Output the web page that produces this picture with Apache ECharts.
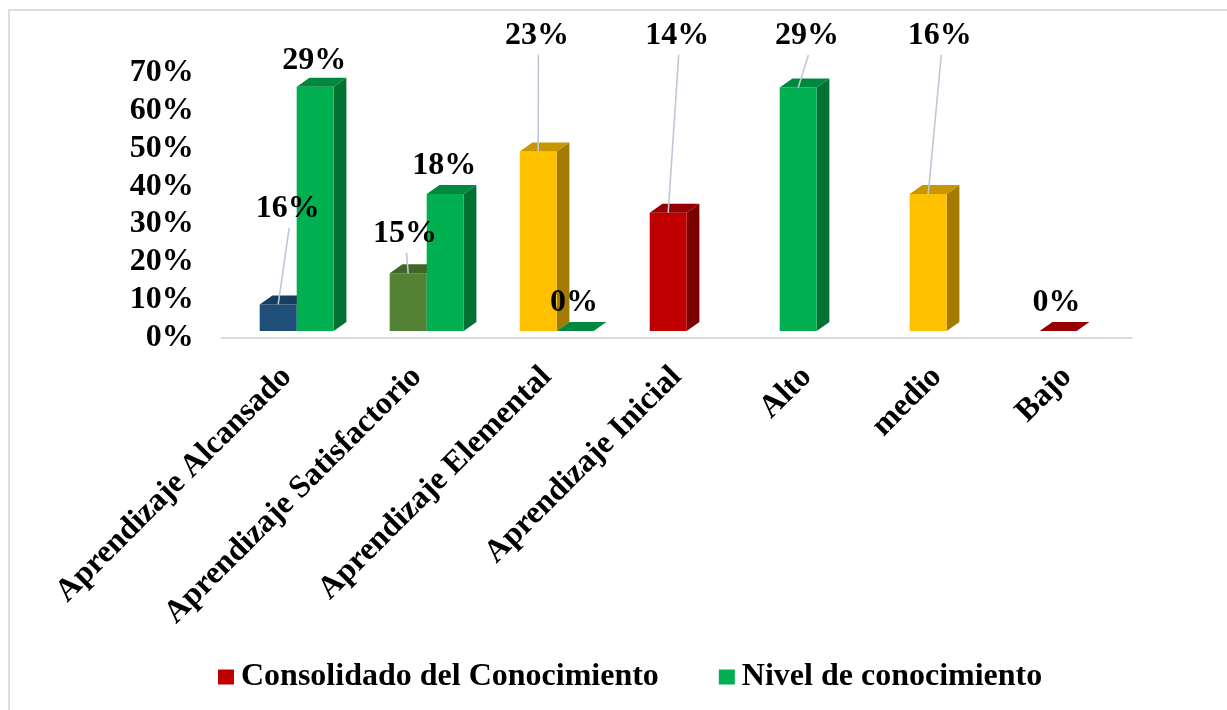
<!DOCTYPE html>
<html>
<head>
<meta charset="utf-8">
<script src="https://cdn.jsdelivr.net/npm/echarts@6/dist/echarts.min.js"></script>
<style>
  html, body { margin: 0; padding: 0; background: #fff; }
  #chart { width: 1227px; height: 710px; }
</style>
</head>
<body>
<div id="chart"></div>
<script>
const categories = [
  'Aprendizaje Alcansado',
  'Aprendizaje Satisfactorio',
  'Aprendizaje Elemental',
  'Aprendizaje Inicial',
  'Alto',
  'medio',
  'Bajo',
]
const consolidado = [7.0, 15.2, 47.3, 31.2, 64.2, 36.1, 0]
const nivel = [64.4, 36.1, 0, null, null, null, null]
const consolidadoLabels = ['16%', '15%', '23%', '14%', '29%', '16%', '0%']
const nivelLabels = ['29%', '18%', '0%', null, null, null, null]
const consolidadoColors = ['#1F4E79', '#548235', '#FFC000', '#C00000', '#00B050', '#FFC000', '#C00000']
const nivelColors = ['#00B050', '#00B050', '#00B050', '#00B050', '#00B050', '#00B050', '#00B050']

// where each data label sits, relative to the top of its bar (px)
const consolidadoLabelShift = [[9.5, -95.6], [-3.2, -39.6], [-1.3, -116], [9, -177], [8.7, -51.6], [11.6, -158.3], [-1.7, -28]]
const nivelLabelShift = [[-1, -25.7], [-1, -28], [-1.2, -28], null, null, null, null]

const FONT = '"Liberation Serif", "Times New Roman", serif'
const FONT_SIZE = 32
const BAR_W = 37
const DEPTH_X = 12.7
const DEPTH_Y = 9
const LIFT = 7
const SHIFT = 10

function shade(hex, k) {
  const n = parseInt(hex.slice(1), 16)
  const r = Math.round(((n >> 16) & 255) * k)
  const g = Math.round(((n >> 8) & 255) * k)
  const b = Math.round((n & 255) * k)
  return 'rgb(' + r + ',' + g + ',' + b + ')'
}

function makeRender(values, colors, labels, shifts, slot) {
  return function (params, api) {
    const i = params.dataIndex
    if (values[i] == null) return
    const base = api.coord([i, 0])
    const top = api.coord([i, values[i]])
    const x0 = base[0] - BAR_W + slot * BAR_W + SHIFT
    const x1 = x0 + BAR_W
    const yb = base[1] - LIFT
    const yt = top[1] - LIFT
    const c = colors[i]
    const children = [
      {
        type: 'polygon',
        shape: { points: [[x1, yt], [x1 + DEPTH_X, yt - DEPTH_Y], [x1 + DEPTH_X, yb - DEPTH_Y], [x1, yb]] },
        style: { fill: shade(c, 0.64) },
      },
      {
        type: 'rect',
        shape: { x: x0, y: yt, width: BAR_W, height: yb - yt },
        style: { fill: c },
      },
      {
        type: 'polygon',
        shape: { points: [[x0, yt], [x0 + DEPTH_X, yt - DEPTH_Y], [x1 + DEPTH_X, yt - DEPTH_Y], [x1, yt]] },
        style: { fill: shade(c, 0.78) },
      },
    ]
    if (labels[i] != null) {
      const cx = (x0 + x1) / 2
      const lx = cx + shifts[i][0]
      const ly = yt + shifts[i][1]
      if (-shifts[i][1] > 35) {
        children.push({
          type: 'line',
          z2: 50,
          shape: { x1: lx + 1.5, y1: ly + 19, x2: cx, y2: yt },
          style: { stroke: '#BFC8D6', lineWidth: 1.6 },
        })
      }
      children.push({
        type: 'text',
        z2: 100,
        style: {
          text: labels[i],
          x: lx,
          y: ly,
          align: 'center',
          verticalAlign: 'middle',
          font: 'bold ' + FONT_SIZE + 'px ' + FONT,
          fill: '#000',
        },
      })
    }
    return { type: 'group', children }
  }
}

const chart = echarts.init(document.getElementById('chart'))

chart.setOption({
  animation: false,
  backgroundColor: '#fff',
  graphic: [
    { type: 'line', shape: { x1: 8, y1: 10, x2: 1227, y2: 10 }, style: { stroke: '#D9DEE5', lineWidth: 2 } },
    { type: 'line', shape: { x1: 9, y1: 10, x2: 9, y2: 710 }, style: { stroke: '#D9DEE5', lineWidth: 2 } },
  ],
  legend: {
    left: 213,
    top: 656,
    itemWidth: 16,
    itemHeight: 15,
    itemGap: 60,
    icon: 'rect',
    textStyle: { fontFamily: FONT, fontWeight: 'bold', fontSize: FONT_SIZE, color: '#000', padding: [0, 0, 0, 2] },
    data: ['Consolidado del Conocimiento', 'Nivel de conocimiento'],
  },
  grid: { left: 221.7, right: 95.3, top: 72.5, bottom: 372, containLabel: false },
  xAxis: {
    type: 'category',
    data: categories,
    axisLine: { lineStyle: { color: '#D9DDE3', width: 2 } },
    axisTick: { show: false },
    axisLabel: {
      interval: 0,
      rotate: 45,
      margin: 34,
      fontFamily: FONT,
      fontWeight: 'bold',
      fontSize: FONT_SIZE,
      color: '#000',
    },
  },
  yAxis: {
    type: 'value',
    min: 0,
    max: 70,
    interval: 10,
    axisLine: { show: false },
    axisTick: { show: false },
    splitLine: { show: false },
    axisLabel: {
      formatter: '{value}%',
      margin: 28,
      fontFamily: FONT,
      fontWeight: 'bold',
      fontSize: FONT_SIZE,
      color: '#000',
    },
  },
  series: [
    {
      name: 'Consolidado del Conocimiento',
      type: 'custom',
      itemStyle: { color: '#C00000' },
      encode: { x: 0, y: 1 },
      data: categories.map((c, i) => [i, consolidado[i]]),
      renderItem: makeRender(consolidado, consolidadoColors, consolidadoLabels, consolidadoLabelShift, 0),
    },
    {
      name: 'Nivel de conocimiento',
      type: 'custom',
      itemStyle: { color: '#00B050' },
      encode: { x: 0, y: 1 },
      data: categories.map((c, i) => [i, nivel[i] == null ? 0 : nivel[i]]),
      renderItem: makeRender(nivel, nivelColors, nivelLabels, nivelLabelShift, 1),
    },
  ],
})
</script>
</body>
</html>
